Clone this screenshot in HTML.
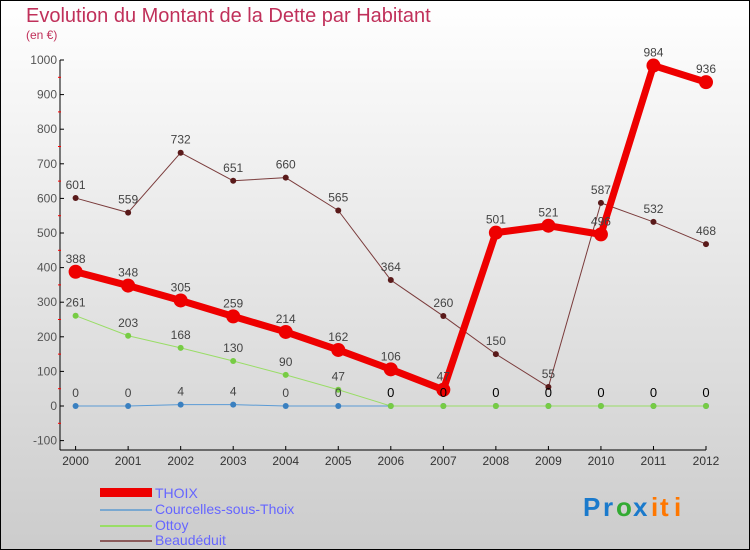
<!DOCTYPE html>
<html><head><meta charset="utf-8">
<style>
body{margin:0;width:750px;height:550px;overflow:hidden;font-family:"Liberation Sans",sans-serif}
svg{display:block}
</style></head>
<body>
<svg id="c" width="750" height="550" xmlns="http://www.w3.org/2000/svg">
<defs>
<linearGradient id="bg" x1="0" y1="0" x2="0" y2="1">
<stop offset="0" stop-color="#ffffff"/><stop offset="1" stop-color="#cccccc"/>
</linearGradient>
</defs>
<rect x="0.5" y="0.5" width="749" height="549" fill="url(#bg)" stroke="#000"/>
<text x="26" y="22" font-size="20" fill="#c0305a">Evolution du Montant de la Dette par Habitant</text>
<text x="26" y="39" font-size="12" fill="#c0305a">(en €)</text>
<g id="axes"></g>
<g id="series"></g>
<g>
<rect x="100" y="488" width="52" height="9" fill="#e00"/>
<text x="155" y="498" font-size="14" fill="#6666ff">THOIX</text>
<line x1="100" y1="510" x2="152" y2="510" stroke="#7aa8d0" stroke-width="2"/>
<text x="155" y="514" font-size="14" fill="#6666ff">Courcelles-sous-Thoix</text>
<line x1="100" y1="526" x2="152" y2="526" stroke="#99dd66" stroke-width="2"/>
<text x="155" y="530" font-size="14" fill="#6666ff">Ottoy</text>
<line x1="100" y1="541" x2="152" y2="541" stroke="#8b5a5a" stroke-width="2"/>
<text x="155" y="545" font-size="14" fill="#6666ff">Beaudéduit</text>
</g>
<g font-size="26" font-weight="bold">
<text x="583" y="516" fill="#1a7acc">P</text><text x="603" y="516" fill="#1a7acc">r</text>
<text x="616" y="516" fill="#33aa33">o</text><text x="633" y="516" fill="#1a7acc">x</text>
<text x="651" y="516" fill="#ff7700">i</text><text x="660" y="516" fill="#ff7700">t</text><text x="674" y="516" fill="#ff7700">i</text>
</g>
</svg>
<script>
const years=[2000,2001,2002,2003,2004,2005,2006,2007,2008,2009,2010,2011,2012];
const yTicks=[-100,0,100,200,300,400,500,600,700,800,900,1000];
const thoix=[388,348,305,259,214,162,106,47,501,521,496,984,936];
const courcelles=[0,0,4,4,0,0,0,0,0,0,0,0,0];
const ottoy=[261,203,168,130,90,47,0,0,0,0,0,0,0];
const beaudeduit=[601,559,732,651,660,565,364,260,150,55,587,532,468];
const NS='http://www.w3.org/2000/svg';
const xS=i=>75.6+i*(706-75.6)/(years.length-1);
const yS=v=>406-v*0.346;
function mk(tag,attrs,parent){const e=document.createElementNS(NS,tag);for(const k in attrs)e.setAttribute(k,attrs[k]);parent.appendChild(e);return e;}
const ax=document.getElementById('axes'),sr=document.getElementById('series');
let a=mk('line',{x1:60,y1:yS(1000),x2:60,y2:450,stroke:'#000'},ax);


a=mk('line',{x1:60,y1:450,x2:706,y2:450,stroke:'#000'},ax);


yTicks.forEach((t,k)=>{
 mk('line',{x1:60,y1:yS(t),x2:64,y2:yS(t),stroke:'#000'},ax);
 if(k<yTicks.length-1) mk('line',{x1:58,y1:yS(t+50),x2:61,y2:yS(t+50),stroke:'#f00'},ax);
 const tx=mk('text',{x:57,y:yS(t)+4,'font-size':12,'text-anchor':'end',fill:'#555'},ax);tx.textContent=t;
 
 
});
years.forEach((y,i)=>{
 mk('line',{x1:xS(i),y1:446,x2:xS(i),y2:450,stroke:'#000'},ax);
 const tx=mk('text',{x:xS(i),y:465,'font-size':12,'text-anchor':'middle',fill:'#333'},ax);tx.textContent=y;
 
 
});
function series(name,data,color,w,r,fill,labelCol){
 const g=mk('g',{},sr);
 
 
 mk('polyline',{points:data.map((v,i)=>xS(i)+','+yS(v)).join(' '),fill:'none',stroke:color,'stroke-width':w,'stroke-linejoin':'round'},g);
 data.forEach((v,i)=>{
  const c=mk('circle',{cx:xS(i),cy:yS(v),r:r,fill:fill},g);
  
  
 });
 return g;
}
function labels(name,data,from,to,col,size){
 const g=mk('g',{},sr);
 
 
 for(let i=from;i<to;i++){const t=mk('text',{x:xS(i),y:yS(data[i])-9,'font-size':size,'text-anchor':'middle',fill:col},g);t.textContent=data[i];}
}
series('beaudeduit',beaudeduit,'#7a3b3b',1,3,'#5a1a1a');
series('courcelles',courcelles,'#5b9bd5',1,3,'#3a80c0');
series('ottoy',ottoy,'#99dd66',1,3,'#77cc44');
series('thoix',thoix,'#ee0000',7,7,'#ee0000');
labels('beaudeduit',beaudeduit,0,13,'#444',12);
labels('ottoy',ottoy,0,6,'#444',12);
labels('courcelles',courcelles,0,6,'#444',12);
labels('zero',ottoy,6,13,'#000',13);
labels('thoix',thoix,0,13,'#444',12);
</script>
</body></html>
